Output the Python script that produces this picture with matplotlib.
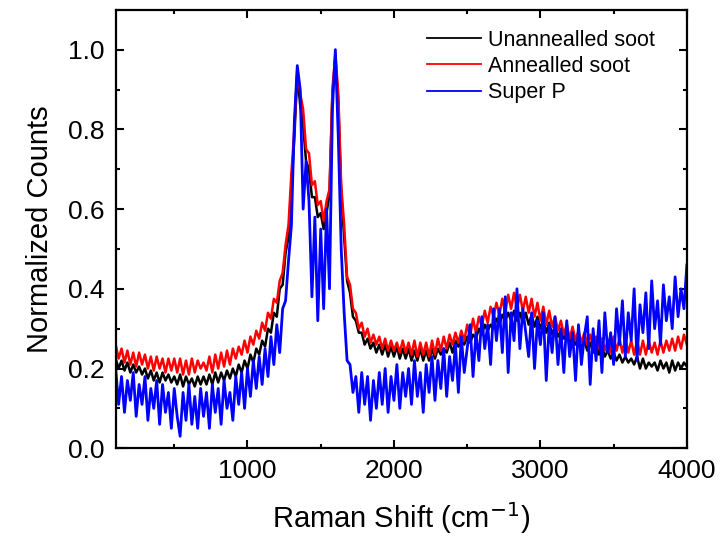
import numpy as np
import matplotlib
matplotlib.use('Agg')
import matplotlib.pyplot as plt
from matplotlib.ticker import MultipleLocator

plt.rcParams['font.family'] = ['Liberation Sans', 'DejaVu Sans']

# Raman shift grid, cm^-1 (every 20 from 100 to 4000)
shift = np.arange(100, 4001, 20)

unannealed = [
    0.225, 0.20, 0.22, 0.195, 0.215, 0.19, 0.21, 0.19, 0.205, 0.185,
    0.20, 0.175, 0.195, 0.17, 0.19, 0.165, 0.19, 0.17, 0.185, 0.165,
    0.18, 0.16, 0.185, 0.155, 0.18, 0.16, 0.175, 0.155, 0.18, 0.16,
    0.18, 0.16, 0.185, 0.16, 0.19, 0.165, 0.19, 0.17, 0.195, 0.175,
    0.20, 0.18, 0.21, 0.19, 0.22, 0.20, 0.235, 0.215, 0.25, 0.235,
    0.27, 0.255, 0.30, 0.29, 0.34, 0.33, 0.40, 0.41, 0.49, 0.53,
    0.66, 0.78, 0.94, 0.86, 0.81, 0.72, 0.70, 0.63, 0.63, 0.58,
    0.59, 0.55, 0.59, 0.64, 0.89, 0.98, 0.87, 0.64, 0.53, 0.42,
    0.39, 0.33, 0.32, 0.29, 0.29, 0.26, 0.275, 0.25, 0.265, 0.24,
    0.26, 0.235, 0.26, 0.23, 0.255, 0.23, 0.255, 0.225, 0.25, 0.225,
    0.25, 0.22, 0.245, 0.22, 0.25, 0.22, 0.245, 0.22, 0.25, 0.225,
    0.25, 0.235, 0.25, 0.24, 0.265, 0.24, 0.27, 0.255, 0.27, 0.26,
    0.28, 0.265, 0.285, 0.275, 0.30, 0.285, 0.31, 0.295, 0.31, 0.30,
    0.325, 0.31, 0.335, 0.32, 0.34, 0.32, 0.345, 0.32, 0.34, 0.315,
    0.34, 0.31, 0.335, 0.305, 0.33, 0.30, 0.32, 0.29, 0.315, 0.285,
    0.305, 0.28, 0.295, 0.275, 0.29, 0.265, 0.28, 0.26, 0.275, 0.25,
    0.27, 0.245, 0.265, 0.24, 0.26, 0.235, 0.255, 0.23, 0.245, 0.225,
    0.24, 0.22, 0.235, 0.215, 0.23, 0.215, 0.225, 0.21, 0.23, 0.20,
    0.225, 0.20, 0.215, 0.205, 0.215, 0.195, 0.22, 0.20, 0.215, 0.19,
    0.22, 0.195, 0.215, 0.20, 0.215, 0.205,
]

annealed = [
    0.26, 0.225, 0.25, 0.215, 0.245, 0.21, 0.24, 0.205, 0.24, 0.21,
    0.235, 0.20, 0.23, 0.195, 0.23, 0.20, 0.225, 0.19, 0.225, 0.195,
    0.225, 0.19, 0.225, 0.185, 0.22, 0.185, 0.225, 0.19, 0.22, 0.20,
    0.215, 0.195, 0.23, 0.19, 0.235, 0.20, 0.24, 0.205, 0.245, 0.21,
    0.25, 0.225, 0.255, 0.235, 0.27, 0.24, 0.28, 0.26, 0.295, 0.275,
    0.315, 0.295, 0.34, 0.325, 0.375, 0.365, 0.42, 0.44, 0.51, 0.56,
    0.69, 0.80, 0.95, 0.89, 0.85, 0.75, 0.74, 0.66, 0.67, 0.61,
    0.62, 0.57, 0.62, 0.65, 0.90, 0.99, 0.89, 0.66, 0.56, 0.43,
    0.41, 0.35, 0.34, 0.30, 0.315, 0.28, 0.30, 0.265, 0.285, 0.26,
    0.28, 0.25, 0.275, 0.245, 0.27, 0.245, 0.265, 0.24, 0.27, 0.24,
    0.265, 0.235, 0.27, 0.23, 0.265, 0.235, 0.265, 0.23, 0.27, 0.235,
    0.275, 0.245, 0.28, 0.25, 0.285, 0.26, 0.29, 0.265, 0.295, 0.27,
    0.31, 0.28, 0.325, 0.29, 0.33, 0.305, 0.345, 0.315, 0.355, 0.33,
    0.365, 0.335, 0.375, 0.34, 0.385, 0.35, 0.39, 0.35, 0.385, 0.345,
    0.38, 0.34, 0.375, 0.33, 0.365, 0.32, 0.355, 0.31, 0.345, 0.305,
    0.33, 0.295, 0.32, 0.285, 0.31, 0.275, 0.305, 0.27, 0.295, 0.265,
    0.29, 0.26, 0.285, 0.255, 0.28, 0.25, 0.275, 0.245, 0.27, 0.24,
    0.28, 0.245, 0.275, 0.24, 0.275, 0.24, 0.27, 0.235, 0.27, 0.235,
    0.27, 0.235, 0.27, 0.24, 0.265, 0.235, 0.27, 0.24, 0.27, 0.245,
    0.275, 0.245, 0.28, 0.25, 0.285, 0.26,
]

super_p = [
    0.20, 0.11, 0.18, 0.09, 0.17, 0.12, 0.19, 0.08, 0.16, 0.11,
    0.18, 0.07, 0.15, 0.10, 0.17, 0.06, 0.16, 0.09, 0.14, 0.05,
    0.15, 0.08, 0.03, 0.14, 0.07, 0.16, 0.06, 0.13, 0.05, 0.15,
    0.08, 0.14, 0.05, 0.16, 0.09, 0.15, 0.06, 0.17, 0.10, 0.14,
    0.07, 0.18, 0.11, 0.19, 0.10, 0.20, 0.13, 0.22, 0.15, 0.23,
    0.16, 0.25, 0.18, 0.28, 0.21, 0.31, 0.24, 0.35, 0.37, 0.47,
    0.56, 0.82, 0.96, 0.90, 0.60, 0.72, 0.62, 0.38, 0.58, 0.32,
    0.55, 0.35, 0.60, 0.40, 0.85, 1.00, 0.78, 0.50, 0.34, 0.22,
    0.21, 0.14, 0.18, 0.09, 0.19, 0.11, 0.18, 0.07, 0.17, 0.10,
    0.19, 0.11, 0.20, 0.09, 0.18, 0.12, 0.21, 0.10, 0.19, 0.13,
    0.20, 0.11, 0.22, 0.13, 0.19, 0.09, 0.21, 0.14, 0.23, 0.12,
    0.22, 0.15, 0.25, 0.13, 0.23, 0.17, 0.26, 0.14, 0.28, 0.19,
    0.25, 0.31, 0.18, 0.29, 0.22, 0.33, 0.25, 0.31, 0.21, 0.35,
    0.27, 0.35, 0.24, 0.38, 0.19, 0.34, 0.27, 0.40, 0.25, 0.35,
    0.29, 0.23, 0.34, 0.20, 0.32, 0.26, 0.34, 0.17, 0.31, 0.24,
    0.33, 0.21, 0.30, 0.19, 0.32, 0.23, 0.29, 0.17, 0.31, 0.21,
    0.28, 0.33, 0.16, 0.30, 0.22, 0.32, 0.19, 0.34, 0.24, 0.29,
    0.21, 0.35, 0.26, 0.37, 0.23, 0.34, 0.27, 0.40, 0.22, 0.36,
    0.29, 0.39, 0.25, 0.42, 0.30, 0.37, 0.26, 0.41, 0.32, 0.38,
    0.30, 0.43, 0.33, 0.40, 0.35, 0.46,
]

labels = ['Unannealled soot', 'Annealled soot', 'Super P']
colors = ['black', 'red', 'blue']
widths = [1.8, 1.8, 2.0]

fig = plt.figure(figsize=(7.23, 5.44), dpi=100)
ax = fig.add_axes([0.160, 0.176, 0.790, 0.806])

for y, lab, c, w in zip([unannealed, annealed, super_p], labels, colors, widths):
    ax.plot(shift, y, color=c, lw=w, label=lab)

ax.set_xlim(100, 4000)
ax.set_ylim(0, 1.1)
ax.set_xticks([1000, 2000, 3000, 4000])
ax.xaxis.set_minor_locator(MultipleLocator(500))
ax.set_yticks([0.0, 0.2, 0.4, 0.6, 0.8, 1.0])
ax.yaxis.set_minor_locator(MultipleLocator(0.1))
ax.yaxis.set_major_formatter(matplotlib.ticker.FormatStrFormatter('%.1f'))

ax.tick_params(which='both', direction='in', top=True, right=True, width=1.5)
ax.tick_params(which='major', length=6, labelsize=19, pad=8)
ax.tick_params(which='minor', length=3)
for s in ax.spines.values():
    s.set_linewidth(1.6)

ax.set_xlabel('Raman Shift (cm$^{-1}$)', fontsize=21, labelpad=12)
ax.set_ylabel('Normalized Counts', fontsize=21, labelpad=10)

leg = ax.legend(loc='upper left', bbox_to_anchor=(0.545, 0.955), frameon=False,
                fontsize=15.5, handlelength=2.5, handletextpad=0.35,
                labelspacing=0.25, borderpad=0, borderaxespad=0)
for h in leg.get_lines():
    h.set_linewidth(1.3)

fig.savefig('out.png', dpi=100)
